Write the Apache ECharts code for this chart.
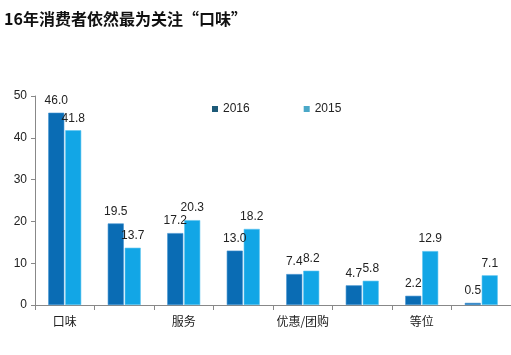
<!DOCTYPE html>
<html><head><meta charset="utf-8">
<script src="https://cdn.jsdelivr.net/npm/echarts@6/dist/echarts.min.js"></script>
<style>html,body{margin:0;padding:0;background:#fff}#c{width:511px;height:355px}</style>
</head><body><div id="c"></div>
<script>
const titleText = '16年消费者依然最为关注“口味”';
const categories = ['口味', '环境', '服务', '价格', '优惠/团购', '位置', '等位', '其他'];
const values2016 = [46.0, 19.5, 17.2, 13.0, 7.4, 4.7, 2.2, 0.5];
const values2015 = [41.8, 13.7, 20.3, 18.2, 8.2, 5.8, 12.9, 7.1];
const yTicks = [0, 10, 20, 30, 40, 50];

const chart = echarts.init(document.getElementById('c'), null, {renderer: 'canvas'});
const font = 'Liberation Sans, Arial, Noto Sans CJK SC, sans-serif';
chart.setOption({
  animation: false,
  backgroundColor: '#fff',
  title: {
    text: titleText, left: -1, top: 6,
    textStyle: {fontSize: 16, fontWeight: 'bold', color: '#111', fontFamily: 'Noto Sans CJK SC, sans-serif'}
  },
  legend: {
    top: 98, left: 207, itemWidth: 6, itemHeight: 6, itemGap: 54, icon: 'rect',
    textStyle: {fontSize: 12, color: '#222', fontFamily: font},
    data: [
      {name: '2016', itemStyle: {color: '#1d5a78', borderWidth: 0}},
      {name: '2015', itemStyle: {color: '#4aa8c8', borderWidth: 0}}
    ]
  },
  grid: {left: 35, right: -1, top: 96, bottom: 50, containLabel: false},
  xAxis: {
    type: 'category', data: categories,
    axisLine: {lineStyle: {color: '#888'}},
    axisTick: {show: true, length: 5, lineStyle: {color: '#888'}, alignWithLabel: false, interval: 0},
    axisLabel: {interval: 1, color: '#222', fontSize: 12, margin: 10, fontFamily: 'Noto Sans CJK SC, sans-serif'}
  },
  yAxis: {
    type: 'value', min: yTicks[0], max: yTicks[yTicks.length - 1], interval: 10,
    splitLine: {show: false},
    axisLine: {show: true, lineStyle: {color: '#888'}},
    axisTick: {show: true, length: 4, lineStyle: {color: '#888'}},
    axisLabel: {color: '#222', fontSize: 12, margin: 8, fontFamily: font}
  },
  series: [
    {
      name: '2016', type: 'bar', data: values2016, barWidth: 16, barGap: '6%',
      itemStyle: {color: '#0a6cb4', borderColor: '#3c8fd0', borderWidth: 0.6},
      label: {show: true, position: 'top', distance: 6, color: '#222', fontSize: 12, fontFamily: font,
        formatter: p => p.value.toFixed(1)}
    },
    {
      name: '2015', type: 'bar', data: values2015, barWidth: 16,
      itemStyle: {color: '#12a6e6', borderColor: '#5cc4f0', borderWidth: 0.6},
      label: {show: true, position: 'top', distance: 6, color: '#222', fontSize: 12, fontFamily: font,
        formatter: p => p.value.toFixed(1)}
    }
  ]
});
</script></body></html>
